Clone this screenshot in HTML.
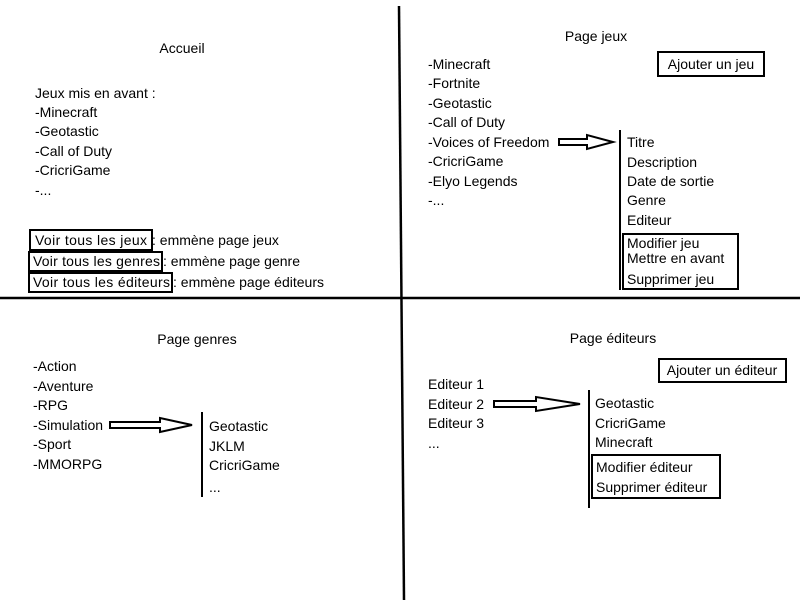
<!DOCTYPE html>
<html><head><meta charset="utf-8"><style>
html,body{margin:0;padding:0;background:#fff}
svg{display:block}
text{font-family:"Liberation Sans",sans-serif;font-size:14px;fill:#000}
</style></head><body>
<svg width="800" height="600" viewBox="0 0 800 600">
<line x1="399" y1="6" x2="404" y2="600" stroke="#000" stroke-width="2.5"/>
<line x1="0" y1="298" x2="800" y2="298" stroke="#000" stroke-width="2.5"/>

<!-- Accueil -->
<text x="182" y="53" text-anchor="middle">Accueil</text>
<text x="35" y="98">Jeux mis en avant :</text>
<text x="35" y="117">-Minecraft</text>
<text x="35" y="136">-Geotastic</text>
<text x="35" y="156">-Call of Duty</text>
<text x="35" y="175">-CricriGame</text>
<text x="35" y="195">-...</text>
<rect x="30" y="230" width="122" height="20" fill="none" stroke="#000" stroke-width="2"/>
<text x="35" y="245" textLength="112">Voir tous les jeux</text>
<text x="152" y="245">: emmène page jeux</text>
<rect x="29" y="252" width="133" height="19" fill="none" stroke="#000" stroke-width="2"/>
<text x="33" y="266" textLength="127">Voir tous les genres</text>
<text x="163" y="266">: emmène page genre</text>
<rect x="29" y="273" width="143" height="19" fill="none" stroke="#000" stroke-width="2"/>
<text x="33" y="287" textLength="137">Voir tous les éditeurs</text>
<text x="173" y="287">: emmène page éditeurs</text>

<!-- Page jeux -->
<text x="596" y="41" text-anchor="middle">Page jeux</text>
<rect x="658" y="52" width="106" height="24" fill="none" stroke="#000" stroke-width="2"/>
<text x="711" y="69" text-anchor="middle">Ajouter un jeu</text>
<text x="428" y="69">-Minecraft</text>
<text x="428" y="88">-Fortnite</text>
<text x="428" y="108">-Geotastic</text>
<text x="428" y="127">-Call of Duty</text>
<text x="428" y="147">-Voices of Freedom</text>
<text x="428" y="166">-CricriGame</text>
<text x="428" y="186">-Elyo Legends</text>
<text x="428" y="205">-...</text>
<polygon points="559,139 587,139 587,135 613,142 587,149 587,145 559,145" fill="#fff" stroke="#000" stroke-width="2"/>
<line x1="620" y1="130" x2="620" y2="290" stroke="#000" stroke-width="2"/>
<text x="627" y="147">Titre</text>
<text x="627" y="167">Description</text>
<text x="627" y="186">Date de sortie</text>
<text x="627" y="205">Genre</text>
<text x="627" y="225">Editeur</text>
<rect x="623" y="234" width="115" height="55" fill="none" stroke="#000" stroke-width="2"/>
<text x="627" y="248">Modifier jeu</text>
<text x="627" y="263">Mettre en avant</text>
<text x="627" y="284">Supprimer jeu</text>

<!-- Page genres -->
<text x="197" y="344" text-anchor="middle">Page genres</text>
<text x="33" y="371">-Action</text>
<text x="33" y="391">-Aventure</text>
<text x="33" y="410">-RPG</text>
<text x="33" y="430">-Simulation</text>
<text x="33" y="449">-Sport</text>
<text x="33" y="469">-MMORPG</text>
<polygon points="110,422 160,422 160,418 192,425 160,432 160,428 110,428" fill="#fff" stroke="#000" stroke-width="2"/>
<line x1="202" y1="412" x2="202" y2="497" stroke="#000" stroke-width="2"/>
<text x="209" y="431">Geotastic</text>
<text x="209" y="451">JKLM</text>
<text x="209" y="470">CricriGame</text>
<text x="209" y="492">...</text>

<!-- Page éditeurs -->
<text x="613" y="343" text-anchor="middle">Page éditeurs</text>
<rect x="659" y="359" width="127" height="23" fill="none" stroke="#000" stroke-width="2"/>
<text x="722" y="375" text-anchor="middle">Ajouter un éditeur</text>
<text x="428" y="389">Editeur 1</text>
<text x="428" y="409">Editeur 2</text>
<text x="428" y="428">Editeur 3</text>
<text x="428" y="448">...</text>
<polygon points="494,401 536,401 536,397 580,404 536,411 536,407 494,407" fill="#fff" stroke="#000" stroke-width="2"/>
<line x1="589" y1="390" x2="589" y2="508" stroke="#000" stroke-width="2"/>
<text x="595" y="408">Geotastic</text>
<text x="595" y="428">CricriGame</text>
<text x="595" y="447">Minecraft</text>
<rect x="592" y="455" width="128" height="43" fill="none" stroke="#000" stroke-width="2"/>
<text x="596" y="472">Modifier éditeur</text>
<text x="596" y="492">Supprimer éditeur</text>
</svg>
</body></html>
